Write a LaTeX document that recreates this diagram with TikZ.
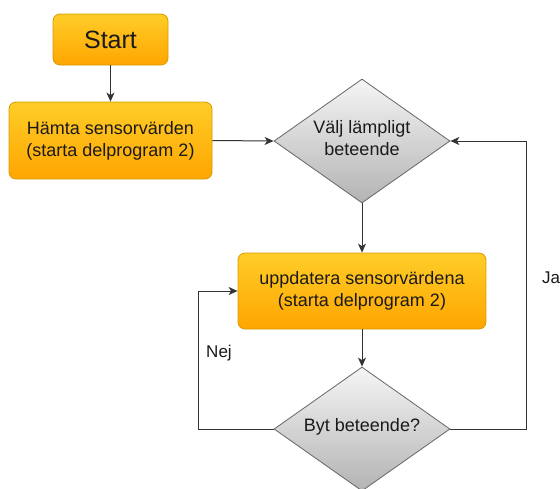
\documentclass[tikz,border=0pt]{standalone}
\usepackage{fontspec}
\setmainfont{Liberation Sans}
\usetikzlibrary{shapes.geometric,arrows.meta}
\definecolor{orTop}{HTML}{FFCD28}
\definecolor{orBot}{HTML}{FFA500}
\definecolor{orLine}{HTML}{D79B00}
\definecolor{grTop}{HTML}{F5F5F5}
\definecolor{grBot}{HTML}{B3B3B3}
\definecolor{grLine}{HTML}{666666}
\definecolor{edgeC}{HTML}{333333}
\definecolor{txtC}{HTML}{1A1A1A}
\tikzset{
  procbox/.style={rectangle, rounded corners=7pt, draw=orLine, line width=0.8pt,
    top color=orTop, bottom color=orBot, inner sep=0pt, text=txtC,
    font=\fontsize{18}{22}\selectfont, align=center},
  decbox/.style={diamond, draw=grLine, line width=0.8pt, top color=grTop, bottom color=grBot,
    inner sep=0pt, minimum width=176pt, minimum height=124pt},
  dectext/.style={text=txtC, font=\fontsize{18}{22}\selectfont, align=center, inner sep=0pt},
  lbl/.style={text=txtC, font=\fontsize{17}{20}\selectfont, inner sep=0pt},
  flow/.style={draw=edgeC, line width=1pt, -{Stealth[length=9pt,width=8pt,inset=2.5pt]}}
}
\begin{document}
\begin{tikzpicture}[x=1pt,y=-1pt]
\useasboundingbox (0,0) rectangle (560,488);
\node[procbox, minimum width=115pt, minimum height=51pt, font=\fontsize{25}{30}\selectfont] (start) at (110.5,39.5) {Start};
\node[procbox, minimum width=203pt, minimum height=77pt] (hamta) at (110.5,140.5) {Hämta sensorvärden\\(starta delprogram 2)};
\node[decbox] (valj) at (362,141) {};
\node[dectext] (valjt) at (362,138) {Välj lämpligt\\beteende};
\node[procbox, minimum width=248pt, minimum height=76pt] (upd) at (362,291) {uppdatera sensorvärdena\\(starta delprogram 2)};
\node[decbox] (byt) at (362,429) {};
\node[dectext] (bytt) at (362,427) {Byt beteende?};
\coordinate (nejx) at (198,0);
\coordinate (jax) at (526,0);
\node[lbl] (nej) at (219,353) {Nej};
\node[lbl] (ja) at (551,278) {Ja};
\draw[flow] (start.south) -- (hamta.north);
\draw[flow] (hamta.east) -- (valj.west);
\draw[flow] (valj.south) -- (upd.north);
\draw[flow] (upd.south) -- (byt.north);
\draw[flow] (byt.west) -- (byt.west -| nejx) |- (upd.west);
\draw[flow] (byt.east) -- (byt.east -| jax) |- (valj.east);
\end{tikzpicture}
\end{document}
